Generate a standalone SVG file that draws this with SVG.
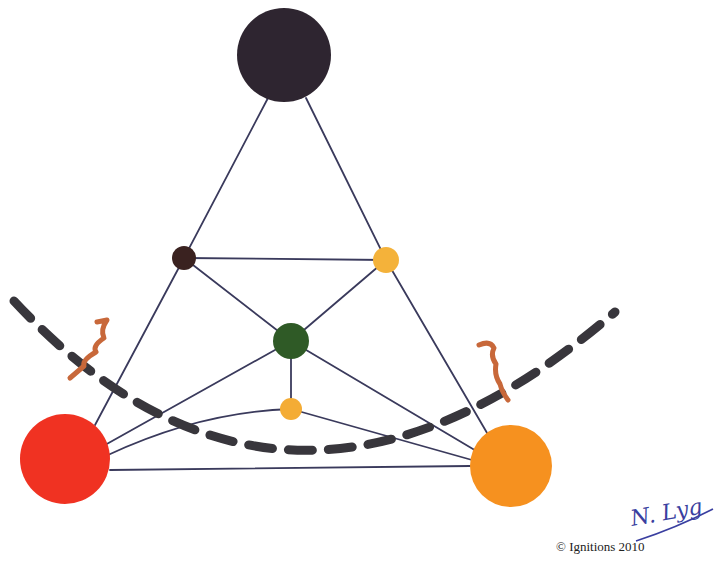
<svg xmlns="http://www.w3.org/2000/svg" width="715" height="561" viewBox="0 0 715 561">
<style>
.edge{stroke:#3a3a5c;stroke-width:1.8;fill:none;stroke-linecap:round}
.dash{stroke:#38363c;stroke-width:9;fill:none;stroke-dasharray:24 16;stroke-linecap:round}
.squig{stroke:#c8683a;stroke-width:5;fill:none;stroke-linecap:round;stroke-linejoin:round}
.copy{font-family:"Liberation Serif",serif;font-size:13px;fill:#222}
.sig{font-family:"DejaVu Serif","Liberation Serif",serif;font-style:italic;font-size:22px;fill:#3a3fa0}
</style>
<rect width="715" height="561" fill="#ffffff"/>
<g id="connectors">
<line class="edge" x1="268" y1="98" x2="184" y2="258"/>
<line class="edge" x1="184" y1="258" x2="95" y2="425"/>
<line class="edge" x1="306" y1="98" x2="386" y2="260"/>
<line class="edge" x1="386" y1="260" x2="490" y2="438"/>
<line class="edge" x1="184" y1="258" x2="386" y2="260"/>
<line class="edge" x1="184" y1="258" x2="291" y2="341"/>
<line class="edge" x1="386" y1="260" x2="291" y2="341"/>
<line class="edge" x1="291" y1="341" x2="105" y2="445"/>
<line class="edge" x1="291" y1="341" x2="478" y2="452"/>
<line class="edge" x1="291" y1="341" x2="291" y2="409"/>
<path class="edge" d="M108 455 Q200 412 291 409"/>
<line class="edge" x1="291" y1="409" x2="472" y2="460"/>
<line class="edge" x1="110" y1="470" x2="470" y2="466"/>
</g>
<g id="cut">
<path class="dash" d="M14 301 Q287 594 615 312"/>
</g>
<g id="marks">
<path class="squig" d="M97 322 L107 320 Q100 330 104 338 Q92 346 96 352 Q82 360 84 366 L70 378"/>
<path class="squig" d="M479 345 Q490 340 494 348 Q490 356 496 364 Q494 375 500 384 Q502 392 508 400"/>
</g>
<g id="node-top"><circle cx="284" cy="55" r="47" fill="#2e2530"/></g>
<g id="node-brown"><circle cx="184" cy="258" r="12" fill="#3a2220"/></g>
<g id="node-yellow"><circle cx="386" cy="260" r="13" fill="#f4b23a"/></g>
<g id="node-green"><circle cx="291" cy="341" r="18" fill="#2f5a26"/></g>
<g id="node-small-yellow"><circle cx="291" cy="409" r="11" fill="#f4ac35"/></g>
<g id="node-red"><circle cx="65" cy="459" r="45" fill="#f03222"/></g>
<g id="node-orange"><circle cx="511" cy="466" r="41" fill="#f6911f"/></g>
<g id="signature">
<text class="sig" x="632" y="526" transform="rotate(-10 632 526)">N. Lyg</text>
<path d="M636 541 Q676 528 713 509" stroke="#3a3fa0" stroke-width="1.6" fill="none"/>
</g>
<text class="copy" x="556" y="551">© Ignitions 2010</text>
</svg>
